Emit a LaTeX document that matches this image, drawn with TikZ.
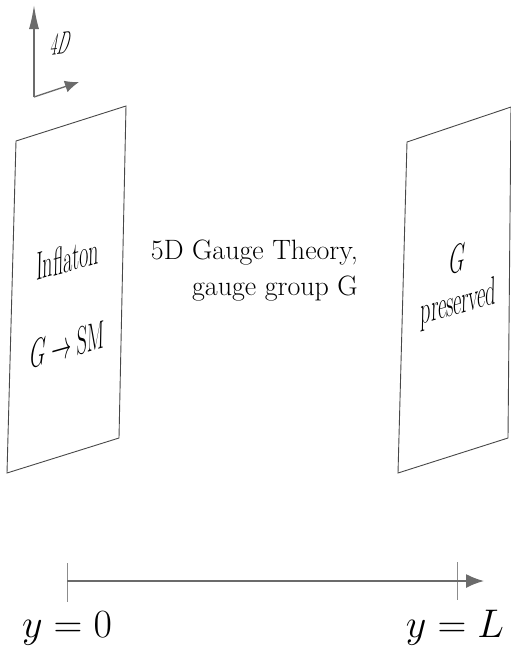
\RequirePackage{fix-cm}
\documentclass[tikz,border=0pt]{standalone}
\usetikzlibrary{arrows.meta}
\definecolor{axisgray}{gray}{0.42}
\definecolor{branegray}{gray}{0.28}
\definecolor{tickgray}{gray}{0.55}
\tikzset{
  axisline/.style={draw=axisgray, line width=1.6pt},
  braneedge/.style={draw=branegray, line width=0.9pt, line join=miter},
  tickline/.style={draw=tickgray, line width=0.9pt},
  branetext/.style={inner sep=0pt, transform shape, cm={0.5,0.14,0.02,1,(0,0)}, font=\fontsize{40}{46}\selectfont},
  plaintext/.style={inner sep=0pt},
}
\begin{document}
\begin{tikzpicture}[x=1pt,y=-1pt]
\useasboundingbox (0,0) rectangle (511,646);
% 4D frame
\coordinate (o) at (34,97);
\coordinate (up) at (34,5);
\coordinate (rt) at (79,82);
\draw[axisline, line width=1.3pt, -{Latex[length=24pt,width=10pt]}] (o) -- (up);
\draw[axisline, line width=1.3pt, -{Latex[length=14pt,width=12pt]}] (o) -- (rt);
\begin{scope}[shift={(59,54)}]
\node[inner sep=0pt, transform shape, cm={0.45,0.05,0.18,1,(0,0)}, font=\fontsize{32}{36}\selectfont, anchor=base] (fourD) at (0,0) {$4D$};
\end{scope}
% left brane
\coordinate (l1) at (16,141);
\coordinate (l2) at (126,106);
\coordinate (l3) at (119,438);
\coordinate (l4) at (7,473);
\draw[braneedge] (l1) -- (l2) -- (l3) -- (l4) -- cycle;
% right brane
\coordinate (r1) at (407,142);
\coordinate (r2) at (511,107);
\coordinate (r3) at (508,438);
\coordinate (r4) at (398,473);
\draw[braneedge] (r1) -- (r2) -- (r3) -- (r4) -- cycle;
% brane texts
\begin{scope}[shift={(67.5,272)}]
\node[branetext, anchor=base] (infl) at (0,0) {Inflaton};
\end{scope}
\begin{scope}[shift={(67,358)}]
\node[branetext, anchor=base] (gsm) at (0,0) {$G\rightarrow\mathrm{SM}$};
\end{scope}
\begin{scope}[shift={(457,272)}]
\node[branetext, anchor=base] (gr) at (0,0) {$G$};
\end{scope}
\begin{scope}[shift={(458.5,314)}]
\node[branetext, anchor=base] (pres) at (0,0) {preserved};
\end{scope}
% bulk text
\node[plaintext, anchor=base east, font=\fontsize{28}{36}\selectfont] (bulk1) at (358,259) {5D Gauge Theory,};
\node[plaintext, anchor=base east, font=\fontsize{28}{36}\selectfont] (bulk2) at (358,295) {gauge group G};
% extra-dimension axis
\coordinate (a0) at (67,581);
\coordinate (a1) at (484,581);
\coordinate (t0a) at (67,563);
\coordinate (t0b) at (67,602);
\coordinate (tLa) at (457,562);
\coordinate (tLb) at (457,600);
\draw[tickline] (t0a) -- (t0b);
\draw[tickline] (tLa) -- (tLb);
\draw[axisline, -{Latex[length=18pt,width=14pt]}] (a0) -- (a1);
\node[plaintext, anchor=base, font=\fontsize{40}{44}\selectfont] (y0) at (67,637) {$y=0$};
\node[plaintext, anchor=base, font=\fontsize{40}{44}\selectfont] (yL) at (455,637) {$y=L$};
\end{tikzpicture}
\end{document}
